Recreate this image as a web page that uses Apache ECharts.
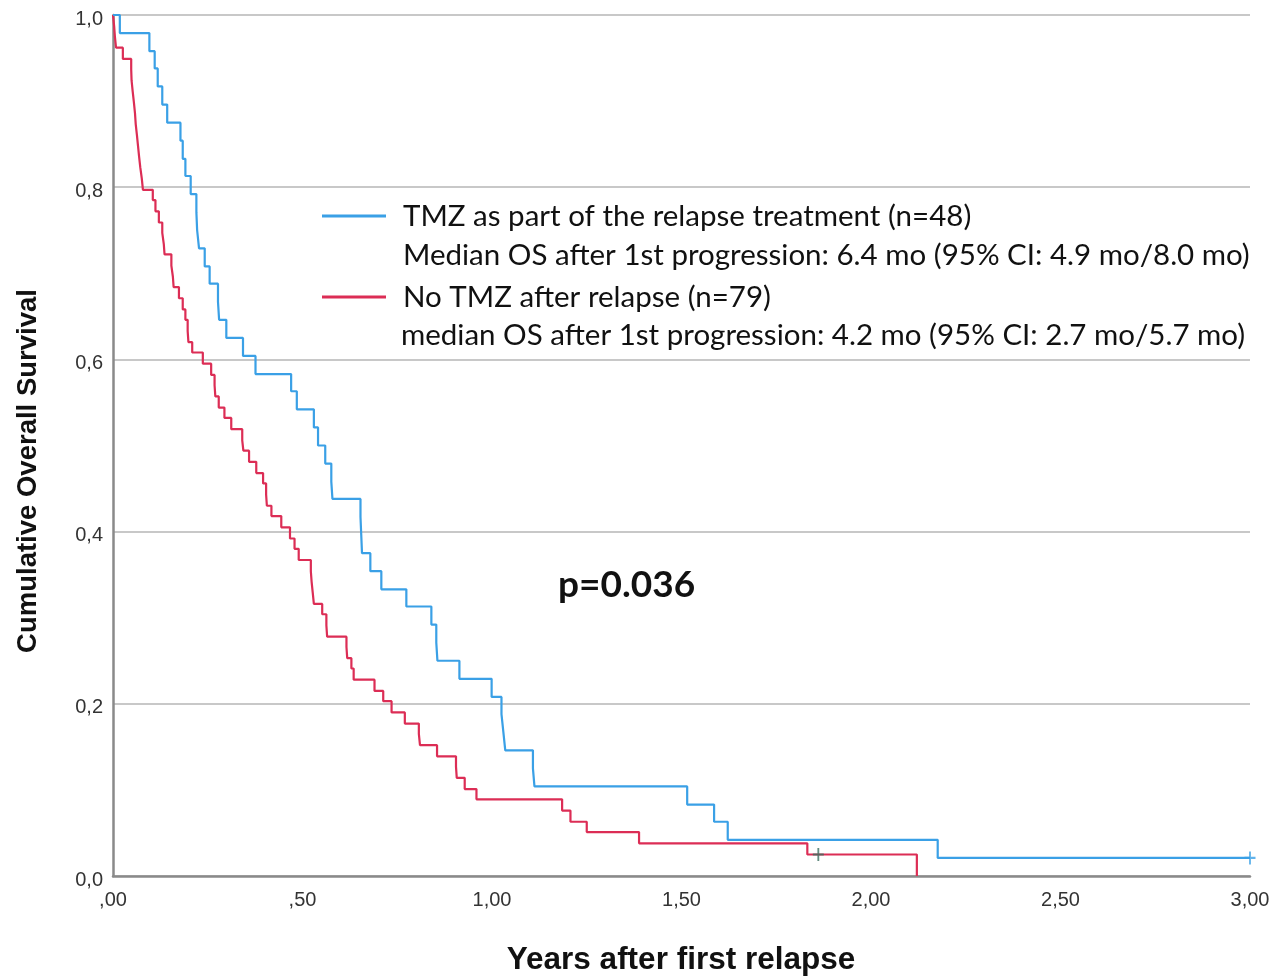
<!DOCTYPE html>
<html>
<head>
<meta charset="utf-8">
<script src="https://cdn.jsdelivr.net/npm/echarts@6/dist/echarts.min.js"></script>
<style>
  html, body { margin: 0; padding: 0; background: #fff; }
  #chart { width: 1278px; height: 977px; }
</style>
</head>
<body>
<div id="chart"></div>
<script>
// Kaplan-Meier steps (years, survival after the drop)
var blueTimes = [0, 0.018, 0.096, 0.110, 0.118, 0.130, 0.143, 0.178, 0.184, 0.191,
    0.205, 0.220, 0.222, 0.227, 0.242, 0.255, 0.277, 0.280, 0.299, 0.343,
    0.376, 0.470, 0.485, 0.530, 0.541, 0.560, 0.576, 0.579, 0.653, 0.655,
    0.657, 0.679, 0.708, 0.774, 0.840, 0.853, 0.856, 0.914, 0.999, 1.025,
    1.030, 1.035, 1.108, 1.112, 1.515, 1.586, 1.622, 2.176, 3.000];
var blueSurv = [1.000, 0.979, 0.958, 0.938, 0.917, 0.896, 0.875, 0.854, 0.833, 0.813,
    0.792, 0.771, 0.750, 0.729, 0.708, 0.688, 0.667, 0.646, 0.625, 0.604,
    0.583, 0.563, 0.542, 0.521, 0.500, 0.479, 0.458, 0.438, 0.417, 0.396,
    0.375, 0.354, 0.333, 0.313, 0.292, 0.271, 0.250, 0.229, 0.208, 0.188,
    0.167, 0.146, 0.125, 0.104, 0.083, 0.063, 0.042, 0.021, 0.021];

var redTimes = [0, 0.003, 0.005, 0.008, 0.026, 0.048, 0.049, 0.052, 0.055, 0.058,
    0.060, 0.063, 0.066, 0.069, 0.072, 0.076, 0.079, 0.105, 0.112, 0.121,
    0.130, 0.134, 0.136, 0.154, 0.158, 0.160, 0.174, 0.184, 0.191, 0.197,
    0.199, 0.209, 0.237, 0.259, 0.268, 0.270, 0.279, 0.294, 0.312, 0.341,
    0.344, 0.359, 0.378, 0.396, 0.404, 0.406, 0.418, 0.444, 0.467, 0.479,
    0.490, 0.522, 0.524, 0.527, 0.530, 0.552, 0.563, 0.565, 0.616, 0.618,
    0.629, 0.635, 0.690, 0.713, 0.735, 0.770, 0.807, 0.810, 0.855, 0.905,
    0.907, 0.928, 0.959, 1.185, 1.207, 1.250, 1.388, 1.832, 2.121];
var redSurv = [1.000, 0.987, 0.975, 0.962, 0.949, 0.937, 0.924, 0.911, 0.899, 0.886,
    0.873, 0.861, 0.848, 0.835, 0.823, 0.810, 0.797, 0.785, 0.772, 0.759,
    0.747, 0.734, 0.722, 0.709, 0.696, 0.684, 0.671, 0.658, 0.646, 0.633,
    0.620, 0.608, 0.595, 0.582, 0.570, 0.557, 0.544, 0.532, 0.519, 0.506,
    0.494, 0.481, 0.468, 0.456, 0.443, 0.430, 0.418, 0.405, 0.392, 0.380,
    0.367, 0.354, 0.342, 0.329, 0.316, 0.304, 0.291, 0.278, 0.266, 0.253,
    0.241, 0.228, 0.215, 0.203, 0.190, 0.177, 0.165, 0.152, 0.139, 0.127,
    0.114, 0.101, 0.089, 0.076, 0.063, 0.051, 0.038, 0.025, 0.000];

// censored cases
var blueCensor = [[3.000, 0.021]];
var redCensor = [[1.861, 0.025]];

var xTicks = [',00', ',50', '1,00', '1,50', '2,00', '2,50', '3,00'];
var yTicks = ['0,0', '0,2', '0,4', '0,6', '0,8', '1,0'];

var blueName = 'TMZ as part of the relapse treatment (n=48)';
var redName = 'No TMZ after relapse (n=79)';
var blueNote = 'Median OS after 1st progression: 6.4 mo (95% CI: 4.9 mo/8.0 mo)';
var redNote = 'median OS after 1st progression: 4.2 mo (95% CI: 2.7 mo/5.7 mo)';
var pText = 'p=0.036';

var blueColor = '#3aa0e6';
var redColor = '#dc2d55';

function pairs(xs, ys) {
    return xs.map(function (x, i) { return [x, ys[i]]; });
}

var plus = 'path://M5,0L5,10M0,5L10,5';

var myChart = echarts.init(document.getElementById('chart'));
var option = {
    animation: false,
    grid: { left: 113, right: 28, top: 15, bottom: 101 },
    legend: {
        orient: 'vertical',
        left: 322,
        top: 200,
        padding: 0,
        icon: 'rect',
        itemWidth: 64,
        itemHeight: 3,
        itemGap: 49,
        data: [blueName, redName],
        textStyle: {
            fontFamily: 'Lato',
            fontSize: 29.5,
            color: '#111',
            lineHeight: 32,
            padding: [0, 0, 0, 12]
        }
    },
    xAxis: {
        type: 'value',
        min: 0,
        max: 3,
        interval: 0.5,
        splitLine: { show: false },
        axisTick: { show: false },
        axisLine: { lineStyle: { color: '#8a8a8a', width: 2.5 } },
        axisLabel: {
            margin: 14,
            fontFamily: 'Liberation Sans',
            fontSize: 20,
            color: '#333',
            formatter: function (v) { return xTicks[Math.round(v / 0.5)]; }
        }
    },
    yAxis: {
        type: 'value',
        min: 0,
        max: 1,
        interval: 0.2,
        splitLine: { lineStyle: { color: '#c8c8c8', width: 2 } },
        axisTick: { show: false },
        axisLine: { show: true, lineStyle: { color: '#8a8a8a', width: 2.5 } },
        axisLabel: {
            margin: 10,
            fontFamily: 'Liberation Sans',
            fontSize: 20,
            color: '#333',
            verticalAlign: 'top',
            lineHeight: 8,
            formatter: function (v) { return yTicks[Math.round(v / 0.2)]; }
        }
    },
    graphic: [
        {
            type: 'text', x: 28, y: 471, rotation: Math.PI / 2,
            style: {
                text: 'Cumulative Overall Survival', fill: '#111',
                font: 'bold 27.5px "Liberation Sans"',
                textAlign: 'center', textVerticalAlign: 'middle'
            }
        },
        {
            type: 'text', x: 681, y: 960,
            style: {
                text: 'Years after first relapse', fill: '#111',
                font: 'bold 31.5px "Liberation Sans"',
                textAlign: 'center', textVerticalAlign: 'middle'
            }
        },
        {
            type: 'text', x: 403, y: 255,
            style: {
                text: blueNote, fill: '#111', font: '29.5px Lato',
                textVerticalAlign: 'middle'
            }
        },
        {
            type: 'text', x: 401, y: 335,
            style: {
                text: redNote, fill: '#111', font: '29.5px Lato',
                textVerticalAlign: 'middle'
            }
        },
        {
            type: 'text', x: 558, y: 585,
            style: {
                text: pText, fill: '#111', font: 'bold 37px Lato',
                textVerticalAlign: 'middle'
            }
        }
    ],
    series: [
        {
            name: redName,
            type: 'line',
            step: 'end',
            symbol: 'none',
            color: redColor,
            lineStyle: { width: 2.2 },
            data: pairs(redTimes, redSurv)
        },
        {
            name: blueName,
            type: 'line',
            step: 'end',
            symbol: 'none',
            color: blueColor,
            lineStyle: { width: 2.2 },
            data: pairs(blueTimes, blueSurv)
        },
        {
            name: 'censor-red',
            type: 'scatter',
            symbol: plus,
            symbolSize: [11, 13],
            itemStyle: { color: 'none', borderColor: '#3b6e5f', borderWidth: 2 },
            data: redCensor,
            z: 5
        },
        {
            name: 'censor-blue',
            type: 'scatter',
            symbol: plus,
            symbolSize: [11, 13],
            itemStyle: { color: 'none', borderColor: blueColor, borderWidth: 2 },
            data: blueCensor,
            z: 5
        }
    ]
};
myChart.setOption(option);
</script>
</body>
</html>
